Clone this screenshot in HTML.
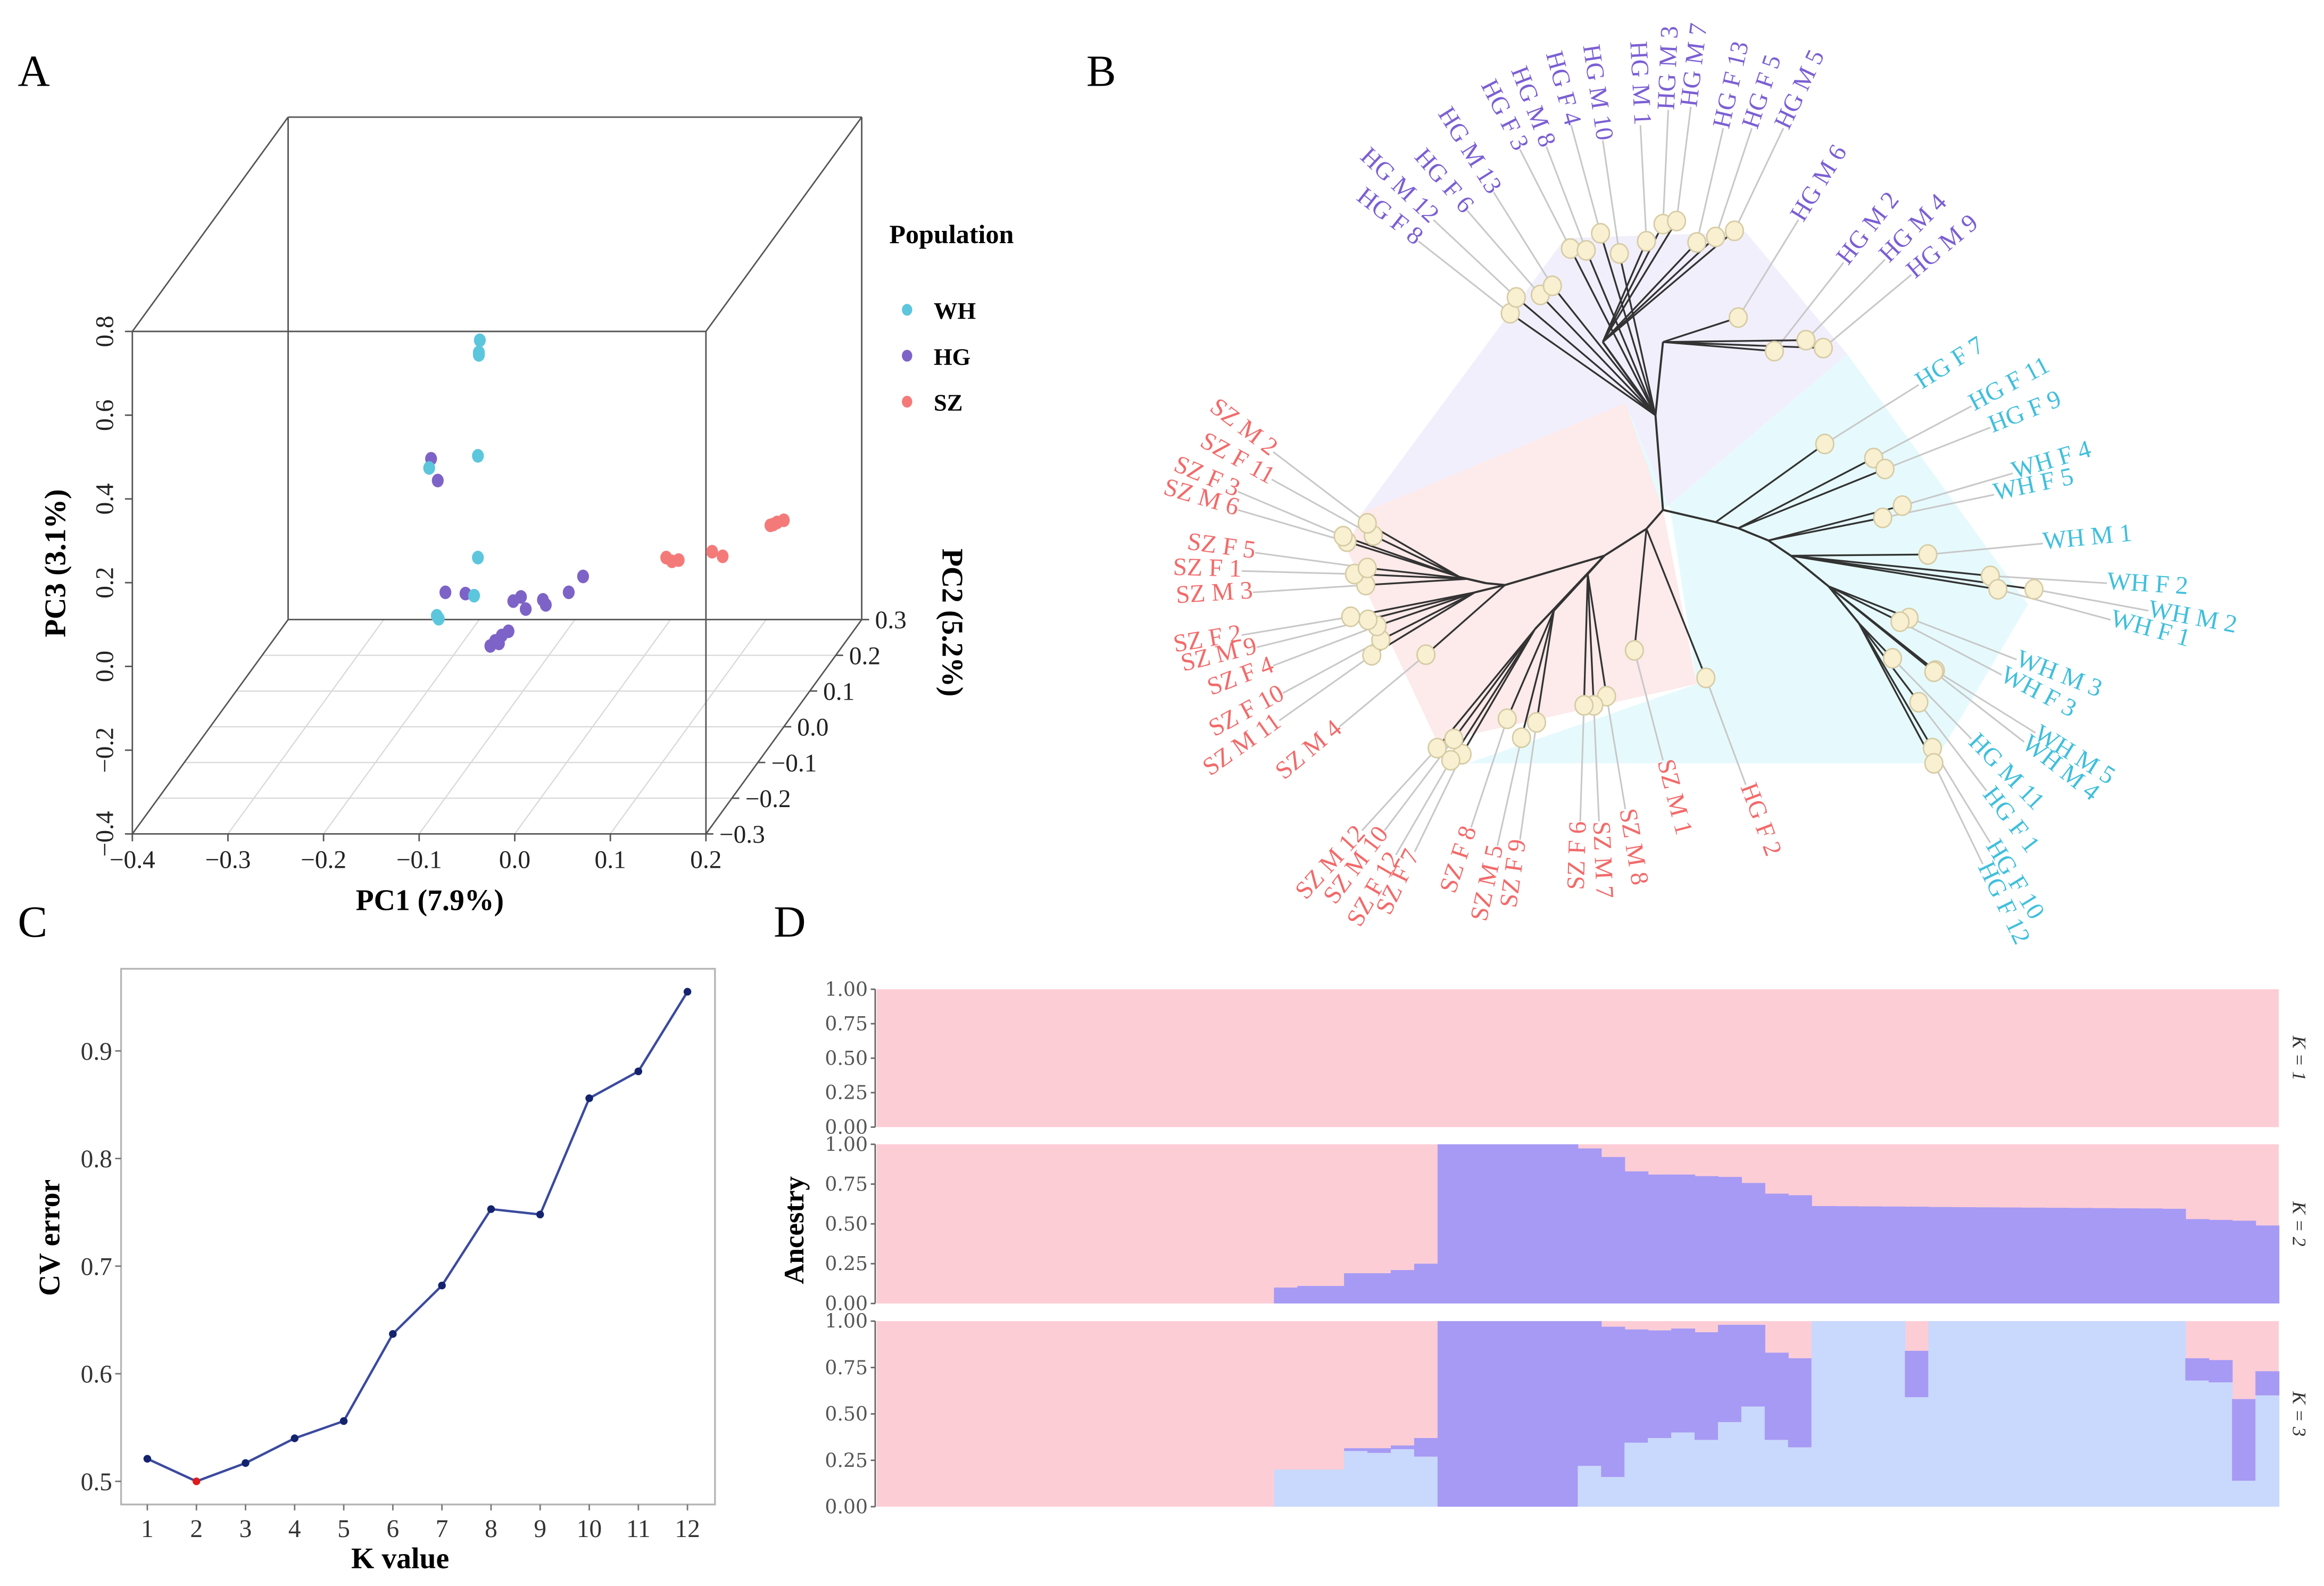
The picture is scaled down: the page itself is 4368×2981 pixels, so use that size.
<!DOCTYPE html>
<html><head><meta charset="utf-8">
<style>
html,body{margin:0;padding:0;background:#fff;}
svg{display:block;font-family:"Liberation Serif",serif;}
</style></head>
<body>
<svg id="fig" xmlns="http://www.w3.org/2000/svg" width="4368" height="2981" viewBox="0 0 1568 1070" preserveAspectRatio="none">
<rect x="0" y="0" width="1568" height="1070" fill="#fff"/>
<g id="pA"></g>
<g id="pB"></g>
<g id="pC"></g>
<g id="pD"></g>
<text x="12" y="58" font-size="30">A</text>
<text x="733" y="58" font-size="30">B</text>
<text x="12" y="632" font-size="30">C</text>
<text x="522" y="632" font-size="30">D</text>
</svg>
<script>
var NS="http://www.w3.org/2000/svg";
function mk(parent,tag,attrs,txt){var e=document.createElementNS(NS,tag);for(var k in attrs)e.setAttribute(k,attrs[k]);if(txt!==undefined)e.textContent=txt;parent.appendChild(e);return e;}

/* ---------------- Panel C data ---------------- */
var cvK=[1,2,3,4,5,6,7,8,9,10,11,12];
var cvErr=[0.521,0.500,0.517,0.540,0.556,0.637,0.682,0.753,0.748,0.856,0.881,0.955];
var cvYTicks=[0.5,0.6,0.7,0.8,0.9];

/* ---------------- Panel D data ---------------- */
var nInd=60;
var k2Purple=[0,0,0,0,0,0,0,0,0,0,0,0,0,0,0,0,0,0.10,0.11,0.11,0.19,0.19,0.21,0.25,1,1,1,1,1,1,0.974,0.92,0.83,0.81,0.81,0.80,0.795,0.757,0.69,0.68,0.612,0.611,0.61,0.609,0.608,0.606,0.605,0.604,0.603,0.602,0.601,0.60,0.599,0.598,0.597,0.595,0.53,0.525,0.52,0.49];
var k3Blue=[0,0,0,0,0,0,0,0,0,0,0,0,0,0,0,0,0,0.20,0.20,0.20,0.30,0.29,0.31,0.27,0,0,0,0,0,0,0.22,0.16,0.345,0.37,0.40,0.36,0.456,0.54,0.36,0.32,1,1,1,1,0.59,1,1,1,1,1,1,1,1,1,1,1,0.68,0.67,0.14,0.60];
var k3Purple=[0,0,0,0,0,0,0,0,0,0,0,0,0,0,0,0,0,0,0,0,0.015,0.025,0.02,0.10,1,1,1,1,1,1,0.78,0.81,0.61,0.58,0.56,0.58,0.524,0.44,0.47,0.48,0,0,0,0,0.25,0,0,0,0,0,0,0,0,0,0,0,0.12,0.12,0.44,0.13];
var dTicks=[0,0.25,0.5,0.75,1];
var dTickLabels=["0.00","0.25","0.50","0.75","1.00"];

/* ---------------- Panel A data ---------------- */
var whPC1=[-0.118,-0.119,-0.119,-0.120,-0.171,-0.120,-0.124,-0.163,-0.161];
var whPC3=[0.523,0.494,0.488,0.247,0.218,0.004,-0.087,-0.135,-0.142];
var hgPC1=[-0.169,-0.162,-0.154,-0.133,-0.083,-0.075,-0.070,-0.052,-0.049,-0.025,-0.010,-0.107,-0.102,-0.095,-0.088,-0.098];
var hgPC3=[0.240,0.188,-0.079,-0.082,-0.100,-0.090,-0.119,-0.097,-0.109,-0.079,-0.041,-0.207,-0.195,-0.182,-0.172,-0.201];
var szPC1=[0.077,0.090,0.083,0.125,0.136,0.186,0.193,0.200,0.189];
var szPC3=[0.004,-0.002,-0.005,0.018,0.007,0.081,0.088,0.093,0.083];
var pc1Ticks=[-0.4,-0.3,-0.2,-0.1,0.0,0.1,0.2];
var pc2Ticks=[-0.3,-0.2,-0.1,0.0,0.1,0.2,0.3];
var pc3Ticks=[-0.4,-0.2,0.0,0.2,0.4,0.6,0.8];

/* ======== Panel A ======== */
(function(){
var g=document.getElementById('pA');
function P(a,b,c){return [89.3+(a+0.4)*645+(b+0.3)/0.6*105.1, 562.6-(c+0.4)*282.5-(b+0.3)/0.6*144.6];}
function fmt(v){var s=Math.abs(v).toFixed(1);return (v<-1e-9?"\u2212":"")+s;}
// floor grid
pc2Ticks.forEach(function(v){var a=P(-0.4,v,-0.4),b=P(0.2,v,-0.4);var l=mk(g,'line',{x1:a[0],y1:a[1],x2:b[0],y2:b[1],stroke:'#d8d8d8','stroke-width':0.8});

});
pc1Ticks.forEach(function(v){var a=P(v,-0.3,-0.4),b=P(v,0.3,-0.4);var l=mk(g,'line',{x1:a[0],y1:a[1],x2:b[0],y2:b[1],stroke:'#d8d8d8','stroke-width':0.8});

});
// cube edges
var C=[[-0.4,-0.3,-0.4],[0.2,-0.3,-0.4],[0.2,0.3,-0.4],[-0.4,0.3,-0.4],[-0.4,-0.3,0.8],[0.2,-0.3,0.8],[0.2,0.3,0.8],[-0.4,0.3,0.8]];
var E=[[0,1],[1,2],[2,3],[3,0],[4,5],[5,6],[6,7],[7,4],[0,4],[1,5],[2,6],[3,7]];
E.forEach(function(e){var a=P.apply(null,C[e[0]]),b=P.apply(null,C[e[1]]);var l=mk(g,'line',{x1:a[0],y1:a[1],x2:b[0],y2:b[1],stroke:'#555','stroke-width':1});

});
// PC1 ticks
pc1Ticks.forEach(function(v){var p=P(v,-0.3,-0.4);mk(g,'line',{x1:p[0],y1:p[1],x2:p[0],y2:p[1]+5,stroke:'#555'});
var t=mk(g,'text',{x:p[0],y:p[1]+23,'font-size':17,'text-anchor':'middle',fill:'#222'},fmt(v));

});
// PC3 ticks
pc3Ticks.forEach(function(v){var p=P(-0.4,-0.3,v);mk(g,'line',{x1:p[0],y1:p[1],x2:p[0]-5,y2:p[1],stroke:'#555'});
var t=mk(g,'text',{x:0,y:0,'font-size':17,'text-anchor':'middle',fill:'#222',transform:'translate('+(p[0]-13)+','+p[1]+') rotate(-90)'},fmt(v));

});
// PC2 ticks
pc2Ticks.forEach(function(v){var p=P(0.2,v,-0.4);mk(g,'line',{x1:p[0],y1:p[1],x2:p[0]+5,y2:p[1],stroke:'#555'});
var t=mk(g,'text',{x:p[0]+9,y:p[1]+6,'font-size':17,fill:'#222'},fmt(v));

});
var t=mk(g,'text',{x:290,y:614,'font-size':20,'font-weight':'bold','text-anchor':'middle'},'PC1 (7.9%)');

t=mk(g,'text',{x:0,y:0,'font-size':20,'font-weight':'bold','text-anchor':'middle',transform:'translate(44,380) rotate(-90)'},'PC3 (3.1%)');

t=mk(g,'text',{x:0,y:0,'font-size':20,'font-weight':'bold','text-anchor':'middle',transform:'translate(636,420) rotate(90)'},'PC2 (5.2%)');

function pts(x,z,col,name){for(var i=0;i<x.length;i++){var p=P(x[i],0,z[i]);var c=mk(g,'ellipse',{cx:p[0],cy:p[1],rx:4,ry:4.6,fill:col});

}}
pts(hgPC1,hgPC3,'#7d63c7','hg-point');
pts(whPC1,whPC3,'#5cc6dc','wh-point');
pts(szPC1,szPC3,'#f47a7a','sz-point');
// legend
t=mk(g,'text',{x:600,y:164,'font-size':18,'font-weight':'bold'},'Population');

var leg=[['WH','#5cc6dc',209],['HG','#7d63c7',240],['SZ','#f47a7a',271]];
leg.forEach(function(L){var c=mk(g,'ellipse',{cx:612,cy:L[2],rx:3.5,ry:4,fill:L[1]});


var tt=mk(g,'text',{x:630,y:L[2]+6,'font-size':16,'font-weight':'bold'},L[0]);

});
})();

/* ======== Panel B tree ======== */
var treeNames=["HG F 8","HG M 12","HG F 6","HG M 13","HG F 3","HG M 8","HG F 4","HG M 10","HG M 1","HG M 3","HG M 7","HG F 13","HG F 5","HG M 5","HG M 6","HG M 2","HG M 4","HG M 9",
"HG F 7","HG F 11","HG F 9","WH F 4","WH F 5","WH M 1","WH F 2","WH M 2","WH F 1","WH M 3","WH F 3","WH M 5","WH M 4","HG M 11","HG F 1","HG F 10","HG F 12",
"HG F 2","SZ M 1","SZ M 8","SZ M 7","SZ F 6","SZ F 9","SZ M 5","SZ F 8","SZ F 7","SZ F 12","SZ M 10","SZ M 12","SZ M 4","SZ M 11","SZ F 10","SZ F 4","SZ M 9","SZ F 2","SZ M 3","SZ F 1","SZ F 5","SZ M 6","SZ F 3","SZ F 11","SZ M 2"];
var treeGroup=[0,0,0,0,0,0,0,0,0,0,0,0,0,0,0,0,0,0, 1,1,1,1,1,1,1,1,1,1,1,1,1,1,1,1,1, 2,2,2,2,2,2,2,2,2,2,2,2,2,2,2,2,2,2,2,2,2,2,2,2,2];
var leafX=[487,495,527,543,567,588,607,632,668,690,708,735,760,785,790,838,880,903, 905,970,985,1008,982,1042,1125,1183,1135,1017,1005,1052,1050,995,1030,1048,1050, 747,652,615,598,585,522,502,483,423,408,412,390,375,303,315,310,298,275,295,280,297,270,265,305,297];
var leafY=[513,487,483,468,407,410,382,415,395,367,362,397,388,378,520,575,557,570, 727,750,768,828,848,908,943,965,965,1012,1018,1098,1100,1078,1150,1225,1250, 1110,1065,1140,1155,1155,1183,1208,1177,1235,1245,1210,1225,1072,1073,1048,1025,1015,1010,958,940,930,887,878,877,857];
var labX=[365,385,430,465,500,535,568,610,660,697,727,770,808,850,870,930,985,1020, 1030,1100,1125,1155,1130,1195,1280,1335,1285,1160,1140,1185,1170,1100,1120,1125,1115, 800,690,640,605,580,500,470,435,360,335,320,290,260,180,185,172,150,130,145,130,148,125,125,170,172];
var labY=[395,360,345,315,245,240,205,230,205,180,175,210,210,210,360,430,425,450, 630,665,700,775,810,890,955,1000,1015,1080,1105,1200,1215,1210,1295,1380,1415, 1285,1245,1325,1345,1345,1375,1385,1355,1395,1400,1360,1360,1190,1180,1135,1090,1060,1040,970,935,905,835,805,785,740];
var leafParent=[1,1,1,1,1,1,1,1,2,2,2,2,2,2,3,3,3,3, 4,5,5,6,6,7,7,7,7,8,8,8,8,9,9,9,9, 10,10,12,12,12,13,13,13,14,14,14,14,15,16,16,16,16,16,18,18,18,19,19,19,19];
var nodeX=[690,680,610,690,760,790,830,860,910,950,668,612,590,545,520,480,440,455,430,420];
var nodeY=[835,680,560,560,855,865,885,910,960,1020,866,910,940,1000,1030,958,970,955,948,945];
var nodePar=[-1,0,1,1,0,4,5,6,7,8,0,10,11,11,11,11,15,15,17,17];
(function(){
var g=document.getElementById('pB');
function X(z){return 771.7+z*0.5077;} function Y(z){return z*0.412;}
var regions=[
 {name:'purple-clade-region',fill:'#f2effc',pts:[[290,840],[560,390],[800,380],[935,580],[690,835],[640,660]]},
 {name:'cyan-clade-region',fill:'#e6fafd',pts:[[640,660],[690,835],[935,580],[1175,990],[1050,1250],[430,1250],[735,1120],[700,835]]},
 {name:'pink-clade-region',fill:'#fdeaea',pts:[[290,840],[640,660],[690,835],[735,1120],[390,1215],[270,900]]}];
regions.forEach(function(r){var p=mk(g,'polygon',{points:r.pts.map(function(q){return X(q[0])+','+Y(q[1]);}).join(' '),fill:r.fill});

});
var cols=['#7b5fd3','#40bfdc','#f26a6a'];
// label lines
for(var i=0;i<treeNames.length;i++){
 var l=mk(g,'line',{x1:X(leafX[i]),y1:Y(leafY[i]),x2:X(labX[i]),y2:Y(labY[i]),stroke:'#c8c8c8','stroke-width':1.1});
 
 
}
// internal branches
for(var j=1;j<nodeX.length;j++){var p=nodePar[j];
 var l2=mk(g,'line',{x1:X(nodeX[p]),y1:Y(nodeY[p]),x2:X(nodeX[j]),y2:Y(nodeY[j]),stroke:'#333','stroke-width':1.4});
 
 }
for(i=0;i<treeNames.length;i++){var p2=leafParent[i];
 var l3=mk(g,'line',{x1:X(nodeX[p2]),y1:Y(nodeY[p2]),x2:X(leafX[i]),y2:Y(leafY[i]),stroke:'#333','stroke-width':1.2});
 
 }
for(i=0;i<treeNames.length;i++){
 var c=mk(g,'ellipse',{cx:X(leafX[i]),cy:Y(leafY[i]),rx:6,ry:6.5,fill:'#f9f0d2',stroke:'#d6cca4','stroke-width':1});
 
 
 var dx=X(labX[i])-X(leafX[i]),dy=Y(labY[i])-Y(leafY[i]);var ang=Math.atan2(dy,dx)*180/Math.PI;var lx=X(labX[i]),ly=Y(labY[i]);
 var anchor='start';if(dx<0){anchor='end';ang+=180;}
 var t=mk(g,'text',{x:0,y:0,'font-size':17,fill:cols[treeGroup[i]],'text-anchor':anchor,'dominant-baseline':'middle',transform:'translate('+lx+','+ly+') rotate('+ang+')'},treeNames[i]);
 
 
}
})();

/* ======== Panel C ======== */
(function(){
var g=document.getElementById('pC');
var L=81.7,R=482.4,T=653.6,B=1015;
function xs(k){return 99.4+(k-1)*33.13;} function ys(v){return 999.4-(v-0.5)*726;}
var r=mk(g,'rect',{x:L,y:T,width:R-L,height:B-T,fill:'none',stroke:'#b5b5b5','stroke-width':1.2});

cvYTicks.forEach(function(v){mk(g,'line',{x1:L,y1:ys(v),x2:L-4,y2:ys(v),stroke:'#777'});
var t=mk(g,'text',{x:L-6,y:ys(v)+6,'font-size':17,'text-anchor':'end',fill:'#333'},v.toFixed(1));
});
cvK.forEach(function(k){mk(g,'line',{x1:xs(k),y1:B,x2:xs(k),y2:B+4,stroke:'#777'});
var t=mk(g,'text',{x:xs(k),y:B+22,'font-size':17,'text-anchor':'middle',fill:'#333'},String(k));
});
var d=cvK.map(function(k,i){return (i?'L':'M')+xs(k)+' '+ys(cvErr[i]);}).join(' ');
var p=mk(g,'path',{d:d,fill:'none',stroke:'#3b4a9e','stroke-width':1.6});

var minI=cvErr.indexOf(Math.min.apply(null,cvErr));
cvK.forEach(function(k,i){var c=mk(g,'circle',{cx:xs(k),cy:ys(cvErr[i]),r:2.6,fill:i===minI?'#e01b1b':'#14236e'});
});
var t=mk(g,'text',{x:0,y:0,'font-size':20,'font-weight':'bold','text-anchor':'middle',transform:'translate(40,835) rotate(-90)'},'CV error');

t=mk(g,'text',{x:270,y:1058,'font-size':20,'font-weight':'bold','text-anchor':'middle'},'K value');

})();

/* ======== Panel D ======== */
(function(){
var g=document.getElementById('pD');
var L=591.5,R=1537.5,bw=(R-L)/nInd;
var panels=[[667.4,760.4,'K = 1'],[772,879.4,'K = 2'],[891.3,1016.5,'K = 3']];
var PINK='#fdcdd6',PUR='#a69af5',BLU='#c9d9fd';
panels.forEach(function(pn,pi){
 var T=pn[0],B=pn[1],H=B-T;
 var bg=mk(g,'rect',{x:L,y:T,width:R-L,height:H,fill:PINK});
 
 
 for(var i=0;i<nInd;i++){var x=L+i*bw;
  if(pi===1&&k2Purple[i]>0){var r=mk(g,'rect',{x:x,y:B-k2Purple[i]*H,width:bw+0.4,height:k2Purple[i]*H,fill:PUR});
   }
  if(pi===2){
   if(k3Blue[i]>0){var r1=mk(g,'rect',{x:x,y:B-k3Blue[i]*H,width:bw+0.4,height:k3Blue[i]*H,fill:BLU});
    }
   if(k3Purple[i]>0){var r2=mk(g,'rect',{x:x,y:B-(k3Blue[i]+k3Purple[i])*H,width:bw+0.4,height:k3Purple[i]*H,fill:PUR});
    }
  }
 }
 mk(g,'line',{x1:L-1,y1:T,x2:L-1,y2:B,stroke:'#666','stroke-width':1});
 dTicks.forEach(function(v,j){var y=B-v*H;mk(g,'line',{x1:L-1,y1:y,x2:L-4,y2:y,stroke:'#666'});
  var t=mk(g,'text',{x:L-6,y:y+4.5,'font-size':13,'text-anchor':'end',fill:'#555','font-family':'"DejaVu Serif",serif'},dTickLabels[j]);
  });
 var s=mk(g,'text',{x:0,y:0,'font-size':13,'text-anchor':'middle',fill:'#333','font-style':'italic',transform:'translate(1547,'+((T+B)/2)+') rotate(90)'},pn[2]);
 
});
var t=mk(g,'text',{x:0,y:0,'font-size':19,'font-weight':'bold','text-anchor':'middle',transform:'translate(542,830) rotate(-90)'},'Ancestry');

})();
</script>
</body></html>
